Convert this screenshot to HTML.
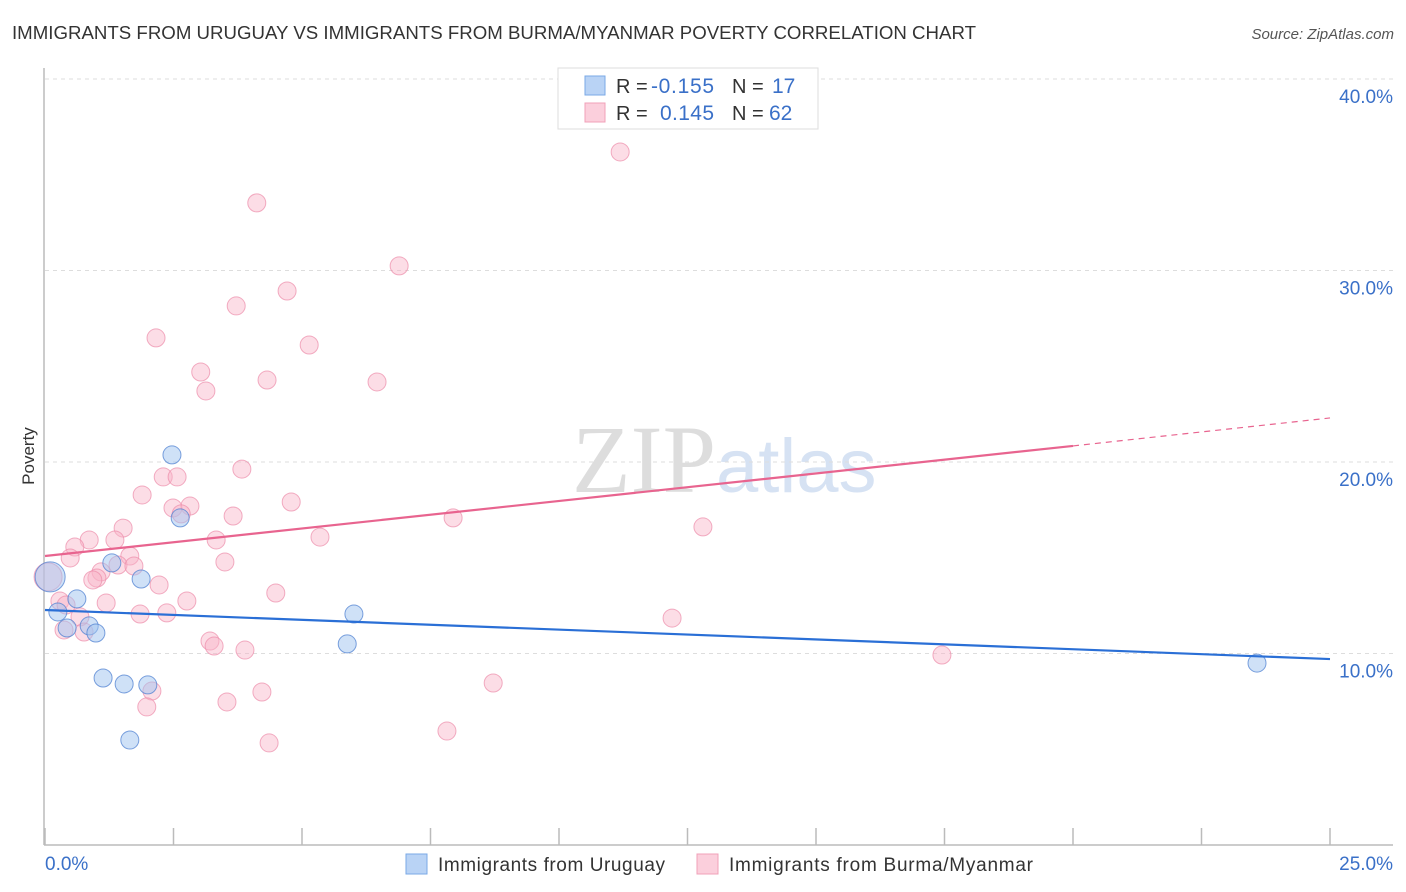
<!DOCTYPE html>
<html><head><meta charset="utf-8"><style>
body{margin:0;background:#fff;width:1406px;height:892px;overflow:hidden;font-family:"Liberation Sans",sans-serif}
svg{position:absolute;left:0;top:0}
</style></head><body>
<svg width="1406" height="892" id="chart">
<text x="12" y="39" font-size="18" fill="#333" textLength="964" lengthAdjust="spacingAndGlyphs">IMMIGRANTS FROM URUGUAY VS IMMIGRANTS FROM BURMA/MYANMAR POVERTY CORRELATION CHART</text>
<text x="1394" y="39" font-size="15" fill="#555" font-style="italic" text-anchor="end">Source: ZipAtlas.com</text>
<text x="716" y="492" font-size="96" fill="#ddd" text-anchor="end" font-family="Liberation Serif">ZIP</text>
<text x="716" y="492" font-size="76" fill="#d6e2f3">atlas</text>
<g id="grid"></g>
<g id="axes"></g>
<g id="pts"></g>
<g id="trends"></g>
<text x="34" y="456" font-size="17" fill="#333" text-anchor="middle" transform="rotate(-90 34 456)">Poverty</text>
<g>
<rect x="558" y="68" width="260" height="61" fill="#fff" stroke="#ddd"/>
<rect x="585" y="76" width="20" height="19" fill="#b9d3f5" stroke="#7aa8e6"/>
<rect x="585" y="103" width="20" height="19" fill="#fbcfdc" stroke="#f0a0b8"/>
<text x="616" y="93" font-size="20" fill="#333">R =</text>
<text x="651" y="93" font-size="21" fill="#3a70c8" textLength="63">-0.155</text>
<text x="732" y="93" font-size="20" fill="#333">N =</text>
<text x="772" y="93" font-size="21" fill="#3a70c8">17</text>
<text x="616" y="120" font-size="20" fill="#333">R =</text>
<text x="660" y="120" font-size="21" fill="#3a70c8" textLength="54">0.145</text>
<text x="732" y="120" font-size="20" fill="#333">N =</text>
<text x="769" y="120" font-size="21" fill="#3a70c8">62</text>
</g>
<g>
<rect x="406" y="854" width="21" height="20" fill="#b9d3f5" stroke="#7aa8e6"/>
<text x="438" y="871" font-size="19" fill="#333" textLength="227">Immigrants from Uruguay</text>
<rect x="697" y="854" width="21" height="20" fill="#fbcfdc" stroke="#f0a0b8"/>
<text x="729" y="871" font-size="19" fill="#333" textLength="304">Immigrants from Burma/Myanmar</text>
</g>
<text x="45" y="870" font-size="19" fill="#3a70c8">0.0%</text>
<text x="1393" y="870" font-size="19" fill="#3a70c8" text-anchor="end">25.0%</text>
</svg>
<script>
const yTicks=[10,20,30,40];
const yTickLabels=["10.0%","20.0%","30.0%","40.0%"];
const xTicks=[0,2.5,5,7.5,10,12.5,15,17.5,20,22.5,25];
const blueX=[0.10,0.25,0.43,0.62,0.86,0.99,1.13,1.30,1.54,1.65,1.87,2.00,2.47,2.63,6.01,5.88,23.58];
const blueY=[14.0,12.17,11.33,12.85,11.44,11.07,8.72,14.73,8.41,5.48,13.89,8.36,20.37,17.08,12.06,10.50,9.50];
const blueSize=[3,1,1,1,1,1,1,1,1,1,1,1,1,1,1,1,1];
const pinkX=[11.19,4.12,6.89,4.71,3.72,2.16,5.14,3.03,4.32,6.46,3.13,3.83,2.30,2.57,1.89,4.79,2.49,2.82,2.65,3.66,7.94,12.80,1.52,5.35,0.86,1.36,3.33,0.58,0.49,1.65,3.50,1.42,1.73,1.09,1.01,0.93,2.22,4.49,2.76,1.19,0.29,0.41,1.85,2.37,0.68,12.20,0.37,0.76,3.21,3.29,3.89,17.45,8.72,2.08,4.22,3.54,1.98,7.82,4.36,0.06];
const pinkY=[36.19,33.53,30.24,28.93,28.15,26.48,26.11,24.70,24.28,24.18,23.71,19.63,19.22,19.22,18.28,17.91,17.60,17.70,17.29,17.18,17.08,16.61,16.55,16.08,15.93,15.93,15.93,15.56,14.99,15.09,14.78,14.62,14.57,14.26,13.94,13.84,13.58,13.16,12.74,12.64,12.74,12.53,12.06,12.12,11.91,11.85,11.23,11.12,10.65,10.39,10.18,9.92,8.46,8.04,7.99,7.47,7.21,5.95,5.33,14.0];
const blueTrend=[[0,12.27],[25,9.71]];
const pinkTrend=[[0,15.09],[20,20.84]];
const pinkTrendExt=[[20,20.84],[25,22.3]];
const NS="http://www.w3.org/2000/svg";
const xs=v=>45+v/25*1285, ys=v=>845-v*19.15;
function mk(tag,attrs,parent){const e=document.createElementNS(NS,tag);for(const k in attrs)e.setAttribute(k,attrs[k]);document.getElementById(parent).appendChild(e);return e;}
yTicks.forEach((t,i)=>{
 const l=mk('line',{x1:45,x2:1393,y1:ys(t),y2:ys(t),stroke:'#ddd','stroke-dasharray':'4,4'},'grid');
 
 
 const tx=mk('text',{x:1393,y:ys(t)+24,'font-size':19,fill:'#3a70c8','text-anchor':'end'},'grid');
 tx.textContent=yTickLabels[i];
 
 
});
const ax=mk('line',{x1:44,x2:44,y1:68,y2:845,stroke:'#bbb','stroke-width':1.5},'axes');


const bx=mk('line',{x1:44,x2:1393,y1:845,y2:845,stroke:'#bbb','stroke-width':1.5},'axes');


xTicks.forEach(t=>{
 const l=mk('line',{x1:xs(t),x2:xs(t),y1:828,y2:845,stroke:'#bbb','stroke-width':1.5},'axes');
 
 
});
pinkX.forEach((x,i)=>{
 const c=mk('circle',{cx:xs(x),cy:ys(pinkY[i]),r:i==pinkX.length-1?14:9,fill:'rgba(248,180,200,0.45)',stroke:'rgba(236,140,170,0.7)','stroke-width':1},'pts');
 
 
});
blueX.forEach((x,i)=>{
 const c=mk('circle',{cx:xs(x),cy:ys(blueY[i]),r:blueSize[i]>1?15:9,fill:'rgba(160,195,240,0.5)',stroke:'rgba(80,130,210,0.75)','stroke-width':1},'pts');
 
 
});
const bt=mk('line',{x1:xs(blueTrend[0][0]),y1:ys(blueTrend[0][1]),x2:xs(blueTrend[1][0]),y2:ys(blueTrend[1][1]),stroke:'#2a6fd6','stroke-width':2.2},'trends');


const pt=mk('line',{x1:xs(pinkTrend[0][0]),y1:ys(pinkTrend[0][1]),x2:xs(pinkTrend[1][0]),y2:ys(pinkTrend[1][1]),stroke:'#e8648f','stroke-width':2.2},'trends');


const pe=mk('line',{x1:xs(pinkTrendExt[0][0]),y1:ys(pinkTrendExt[0][1]),x2:xs(pinkTrendExt[1][0]),y2:ys(pinkTrendExt[1][1]),stroke:'#e8648f','stroke-width':1.2,'stroke-dasharray':'6,5'},'trends');


</script>
</body></html>
